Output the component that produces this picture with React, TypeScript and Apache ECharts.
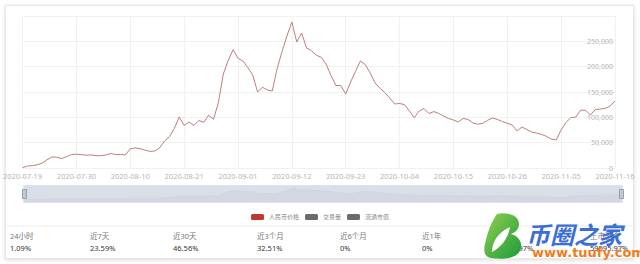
import React, { useEffect, useRef } from "react";
import * as echarts from "echarts";

// ---------- data ----------
const START_DATE = "2020-07-19";
const END_DATE = "2020-11-16";
const DUPLICATED_DATE = "2020-11-01";

const rmbPrice: number[] = [
  500, 3900, 4700, 6300, 9700, 16200, 21900, 21300, 18600, 22500,
  26400, 27200, 26400, 25300, 25700, 24300, 24300, 25700, 28600, 26600,
  26800, 25900, 37900, 39700, 37900, 35300, 32800, 33600, 39700, 53300,
  61800, 78000, 100700, 83900, 90800, 83900, 93800, 90000, 104200, 96300,
  129300, 185500, 212300, 233500, 216300, 211300, 198300, 183700, 150200, 159300,
  154000, 152000, 196400, 230100, 260500, 288200, 248700, 266400, 236800, 231500,
  222600, 218500, 204900, 182400, 162800, 162800, 146000, 169700, 190700, 211200,
  203900, 187500, 167800, 157400, 148700, 138200, 126300, 127300, 125100, 112500,
  99300, 112500, 117400, 107600, 111300, 107600, 102600, 97700, 94700, 91000,
  97900, 95700, 88800, 86400, 88200, 94300, 98700, 95900, 91600, 88200,
  84900, 73000, 80900, 76000, 70900, 68900, 66300, 62400, 57200, 55300,
  75200, 89800, 99700, 100300, 114500, 113700, 104600, 115500, 116300, 117600,
  122400, 132200,
];

const seriesNames = ["人民币价格", "交易量", "流通市值"];
const periodLabels = ["24小时", "近7天", "近30天", "近3个月", "近6个月", "近1年", "今年", "上市至今"];
const periodValues = ["1.09%", "23.59%", "46.56%", "32.51%", "0%", "0%", "59595.97%", "59595.97%"];

function buildDates(): string[] {
  const out: string[] = [];
  const t0 = Date.parse(START_DATE + "T00:00:00Z");
  const t1 = Date.parse(END_DATE + "T00:00:00Z");
  for (let t = t0; t <= t1; t += 86400000) {
    const s = new Date(t).toISOString().slice(0, 10);
    out.push(s);
    if (s === DUPLICATED_DATE) out.push(s);
  }
  return out;
}
const dates = buildDates();

const LOGO_D =
  "M14 2 C22 0 36 2 36 12 C36 18 31 21 28 22 C35 24 39 29 38 36 C36 46 22 48 8 46 C2 45 0 40 2 32 C4 22 8 10 14 2 Z";
const LEAF_D = "M9 40 C9 29 16 20 27 15 C25 27 18 35 9 40 Z";

let registered = false;
function registerShapes() {
  if (registered) return;
  registered = true;
  echarts.graphic.registerShape("logoB", echarts.graphic.extendPath(LOGO_D, {}) as any);
  echarts.graphic.registerShape("logoLeaf", echarts.graphic.extendPath(LEAF_D, {}) as any);
}

export default function App() {
  const ref = useRef<HTMLDivElement>(null);

  useEffect(() => {
    if (!ref.current) return;
    registerShapes();
    const chart = echarts.init(ref.current, undefined, { renderer: "svg" });
    const font = "'Noto Sans', 'Noto Sans CJK SC', sans-serif";

    const colX = [10, 90, 173, 257, 340, 422, 495, 590];
    const tableTexts: any[] = [];
    periodLabels.forEach((lab, i) => {
      tableTexts.push({
        type: "text",
        x: colX[i],
        y: 236,
        style: { text: lab, fill: "#777", fontSize: 7.5, fontFamily: font, verticalAlign: "middle" },
      });
      tableTexts.push({
        type: "text",
        x: colX[i],
        y: 248,
        style: { text: periodValues[i], fill: "#333", fontSize: 7.5, fontFamily: font, verticalAlign: "middle" },
      });
    });

    const option: any = {
      animation: false,
      textStyle: { fontFamily: font },
      grid: { left: 21, right: 25, top: 16, bottom: 96 },
      legend: {
        data: seriesNames,
        top: 209,
        left: "center",
        icon: "roundRect",
        itemWidth: 13,
        itemHeight: 6,
        itemGap: 6,
        textStyle: { fontSize: 6, color: "#888" },
      },
      xAxis: {
        type: "category",
        data: dates,
        boundaryGap: false,
        axisLine: { show: false },
        axisTick: { show: false },
        axisLabel: { interval: 10, fontSize: 7.5, color: "#b5b5b5", margin: 4 },
        splitLine: { show: true, interval: 10, lineStyle: { color: "#f1f1f1" } },
      },
      yAxis: {
        type: "value",
        position: "right",
        min: 0,
        max: 300000,
        interval: 50000,
        axisLine: { show: false },
        axisTick: { show: false },
        axisLabel: {
          inside: true,
          margin: 2,
          showMaxLabel: false,
          fontSize: 7,
          color: "#b5b5b5",
          padding: [0, 0, 4, 0],
          formatter: (v: number) => v.toLocaleString("en-US"),
        },
        splitLine: { lineStyle: { color: "#f1f1f1" } },
      },
      dataZoom: [
        {
          type: "slider",
          xAxisIndex: 0,
          start: 0,
          end: 100,
          left: 21,
          right: 20,
          top: 185,
          height: 18,
          showDetail: false,
          brushSelect: false,
          moveHandleSize: 0,
          backgroundColor: "#e3e6ed",
          borderColor: "#dfe2e9",
          fillerColor: "rgba(200,206,218,0.35)",
          handleIcon: "path://M0,0 L4,0 L4,9 L0,9 Z",
          handleSize: "50%",
          handleStyle: { color: "#c3c8d3", borderColor: "#9aa1ad" },
          dataBackground: {
            lineStyle: { color: "#cdd2dc", width: 0.5 },
            areaStyle: { color: "#d0d5df", opacity: 0.6 },
          },
          selectedDataBackground: {
            lineStyle: { color: "#cdd2dc", width: 0.5 },
            areaStyle: { color: "#d0d5df", opacity: 0.6 },
          },
        },
      ],
      series: [
        {
          name: seriesNames[0],
          type: "line",
          data: rmbPrice,
          symbol: "none",
          lineStyle: { width: 0.9, color: "#b4716c" },
          itemStyle: { color: "#c0392b" },
        },
        { name: seriesNames[1], type: "line", data: [], symbol: "none", itemStyle: { color: "#6b6b6b" } },
        { name: seriesNames[2], type: "line", data: [], symbol: "none", itemStyle: { color: "#6b6b6b" } },
      ],
      graphic: [
        {
          type: "line",
          shape: { x1: 6, y1: 226, x2: 632, y2: 226 },
          style: { stroke: "#eeeeee", lineWidth: 1 },
        },
        ...tableTexts,
        {
          type: "group",
          x: 483,
          y: 212,
          children: [
            {
              type: "logoB",
              x: 0,
              y: 0,
              scaleX: 1,
              scaleY: 1,
              style: {
                fill: new echarts.graphic.LinearGradient(0, 0, 1, 1, [
                  { offset: 0, color: "#8fd14f" },
                  { offset: 1, color: "#1e9a3c" },
                ]),
              },
            },
            { type: "logoLeaf", x: 0, y: 0, style: { fill: "#ffffff" } },
          ],
        },
        {
          type: "text",
          x: 526,
          y: 221,
          style: {
            text: "币圈之家",
            fill: "#3b6fd6",
            fontSize: 24,
            fontWeight: "bold",
            fontStyle: "italic",
            fontFamily: "'Noto Sans CJK SC', sans-serif",
          },
        },
        {
          type: "text",
          x: 532,
          y: 246,
          style: {
            text: "www.tuufy.com",
            fill: "#f07d1c",
            fontSize: 13,
            fontWeight: "bold",
            fontFamily: "'DejaVu Sans', sans-serif",
          },
        },
      ],
    };
    chart.setOption(option);
    return () => chart.dispose();
  }, []);

  return (
    <div style={{ position: "fixed", left: 0, top: 0, width: 640, height: 264, background: "#fff", overflow: "hidden" }}>
      <div
        style={{
          position: "absolute",
          left: 5,
          top: 5,
          width: 627,
          height: 252,
          border: "1px solid #e8e8e8",
          boxShadow: "0 1px 4px rgba(0,0,0,0.15)",
          background: "#fff",
        }}
      />
      <div ref={ref} style={{ position: "absolute", left: 0, top: 0, width: 640, height: 264 }} />
    </div>
  );
}
